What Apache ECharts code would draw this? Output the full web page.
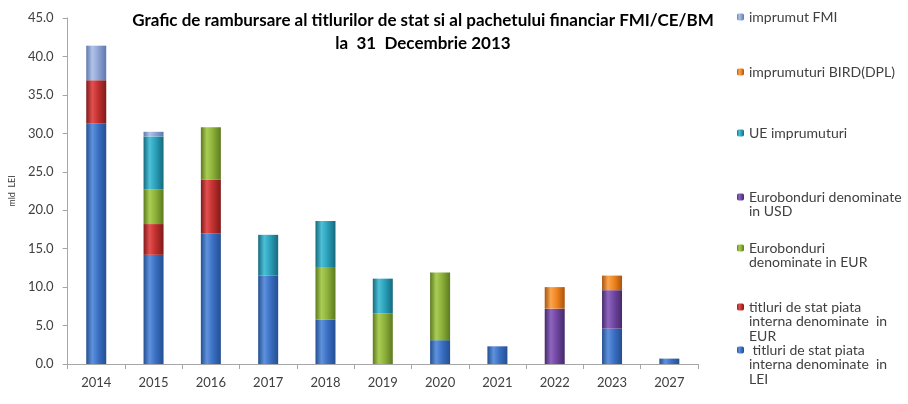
<!DOCTYPE html>
<html>
<head>
<meta charset="utf-8">
<script src="https://cdn.jsdelivr.net/npm/echarts@6/dist/echarts.min.js"></script>
<style>
  html, body { margin: 0; padding: 0; background: #fff; }
  #chart { width: 908px; height: 404px; }
</style>
</head>
<body>
<div id="chart"></div>
<script>
// ani de rambursare
var years = ["2014", "2015", "2016", "2017", "2018", "2019", "2020", "2021", "2022", "2023", "2027"];

// mld LEI
var titluriLei   = [31.3, 14.2, 17.0, 11.5, 5.8, 0,   3.1, 2.3, 0,   4.6, 0.7];
var titluriEur   = [5.6,  4.0,  7.0,  0,    0,   0,   0,   0,   0,   0,   0];
var euroEur      = [0,    4.5,  6.8,  0,    6.8, 6.6, 8.8, 0,   0,   0,   0];
var euroUsd      = [0,    0,    0,    0,    0,   0,   0,   0,   7.2, 5.0, 0];
var ueImprumuturi = [0,   6.9,  0,    5.3,  6.0, 4.5, 0,   0,   0,   0,   0];
var birdDpl      = [0,    0,    0,    0,    0,   0,   0,   0,   2.8, 1.9, 0];
var fmi          = [4.5,  0.6,  0,    0,    0,   0,   0,   0,   0,   0,   0];

var yTicks = [0, 5, 10, 15, 20, 25, 30, 35, 40, 45];

var names = {
  lei: " titluri de stat piata\ninterna denominate  in\nLEI",
  eurT: "titluri de stat piata\ninterna denominate  in\nEUR",
  eurB: "Eurobonduri\ndenominate in EUR",
  usd: "Eurobonduri denominate\nin USD",
  ue: "UE imprumuturi",
  bird: "imprumuturi BIRD(DPL)",
  fmi: "imprumut FMI"
};

function grad(dark, mid, light) {
  return new echarts.graphic.LinearGradient(0, 0, 1, 0, [
    { offset: 0, color: dark },
    { offset: 0.3, color: light },
    { offset: 0.6, color: mid },
    { offset: 1, color: dark }
  ]);
}

function bar(name, data, c) {
  return {
    name: name,
    type: "bar",
    stack: "total",
    barWidth: 20,
    data: data,
    itemStyle: { color: grad(c[0], c[1], c[2]) }
  };
}

var LH = 14.5;

// icoana legendei aliniata cu primul rand: adaug randuri goale deasupra
function leg(name, center) {
  var n = name.split("\n").length;
  return {
    data: [name],
    left: 737,
    top: center - (2 * n - 1) * LH / 2,
    padding: 0,
    itemWidth: 7,
    itemHeight: 7,
    selectedMode: false,
    formatter: function (s) { return new Array(n).join("\n") + s; },
    textStyle: { fontFamily: "Lato", fontSize: 14, color: "#404040", lineHeight: LH }
  };
}

var myChart = echarts.init(document.getElementById("chart"));
var option = {
  animation: false,
  title: {
    text: "Grafic de rambursare al titlurilor de stat si al pachetului financiar FMI/CE/BM\nla  31  Decembrie 2013",
    left: 418,
    top: 4,
    textAlign: "center",
    textStyle: { fontFamily: "Lato", fontSize: 17, fontWeight: "bold", color: "#000", lineHeight: 23 }
  },
  legend: [
    leg(names.fmi, 17),
    leg(names.bird, 72),
    leg(names.ue, 133),
    leg(names.usd, 197),
    leg(names.eurB, 248),
    leg(names.eurT, 307),
    leg(names.lei, 350)
  ],
  grid: { left: 67, right: 210, top: 18, bottom: 40 },
  xAxis: {
    type: "category",
    data: years,
    axisLine: { lineStyle: { color: "#a6a6a6" } },
    axisTick: { show: true, length: 5, lineStyle: { color: "#a6a6a6" } },
    axisLabel: { fontFamily: "Lato", fontSize: 13, color: "#404040", margin: 12 }
  },
  yAxis: {
    type: "value",
    min: 0,
    max: 45,
    interval: 5,
    name: "mld  LEI",
    nameLocation: "middle",
    nameGap: 25,
    nameTextStyle: { fontFamily: "Lato", fontSize: 9, color: "#404040" },
    splitLine: { show: false },
    axisLine: { show: true, lineStyle: { color: "#a6a6a6" } },
    axisTick: { show: true, length: 5, lineStyle: { color: "#a6a6a6" } },
    axisLabel: {
      fontFamily: "Lato", fontSize: 13, color: "#404040", margin: 14,
      formatter: function (v) { return yTicks.indexOf(v) >= 0 ? v.toFixed(1) : ""; }
    }
  },
  series: [
    bar(names.lei, titluriLei, ["#244f91", "#3a6fc4", "#5f92dc"]),
    bar(names.eurT, titluriEur, ["#801a1a", "#c0302e", "#e25050"]),
    bar(names.eurB, euroEur, ["#5c7a1e", "#8db03a", "#aacd55"]),
    bar(names.usd, euroUsd, ["#452a6b", "#7046a0", "#8e65bf"]),
    bar(names.ue, ueImprumuturi, ["#16697d", "#2aa0ba", "#4cc0d6"]),
    bar(names.bird, birdDpl, ["#a9540d", "#f0841e", "#f9a552"]),
    bar(names.fmi, fmi, ["#5f78ac", "#8da4d4", "#b1c3e8"])
  ]
};
myChart.setOption(option);
</script>
</body>
</html>
